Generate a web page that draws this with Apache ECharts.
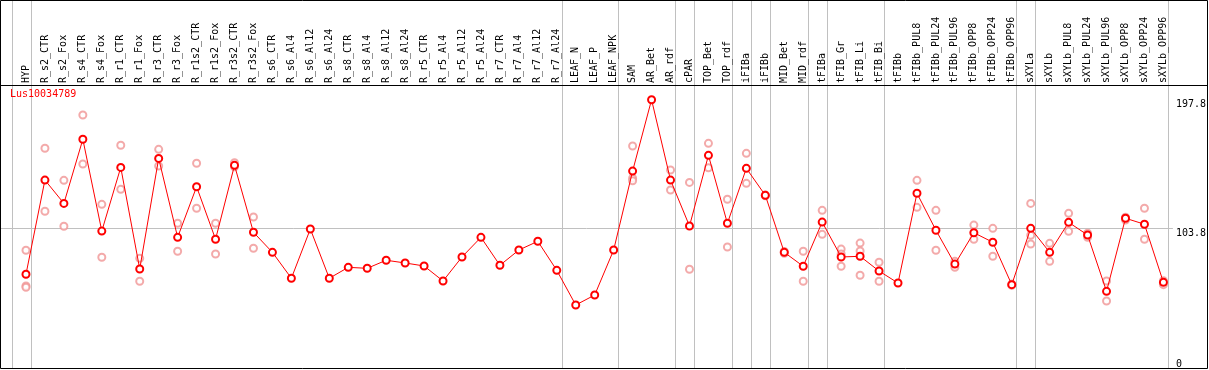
<!DOCTYPE html>
<html>
<head>
<meta charset="utf-8">
<script src="https://cdn.jsdelivr.net/npm/echarts@6/dist/echarts.min.js"></script>
<style>
html,body{margin:0;padding:0;background:#fff;}
#chart{width:1209px;height:370px;}
</style>
</head>
<body>
<div id="chart"></div>
<script>
const seriesName = 'Lus10034789';
const categories = ['HYP','R_s2_CTR','R_s2_Fox','R_s4_CTR','R_s4_Fox','R_r1_CTR','R_r1_Fox','R_r3_CTR','R_r3_Fox','R_r1s2_CTR','R_r1s2_Fox','R_r3s2_CTR','R_r3s2_Fox','R_s6_CTR','R_s6_Al4','R_s6_Al12','R_s6_Al24','R_s8_CTR','R_s8_Al4','R_s8_Al12','R_s8_Al24','R_r5_CTR','R_r5_Al4','R_r5_Al12','R_r5_Al24','R_r7_CTR','R_r7_Al4','R_r7_Al12','R_r7_Al24','LEAF_N','LEAF_P','LEAF_NPK','SAM','AR_Bet','AR_rdf','cPAR','TOP_Bet','TOP_rdf','iFIBa','iFIBb','MID_Bet','MID_rdf','tFIBa','tFIB_Gr','tFIB_Li','tFIB_Bi','tFIBb','tFIBb_PUL8','tFIBb_PUL24','tFIBb_PUL96','tFIBb_OPP8','tFIBb_OPP24','tFIBb_OPP96','sXYLa','sXYLb','sXYLb_PUL8','sXYLb_PUL24','sXYLb_PUL96','sXYLb_OPP8','sXYLb_OPP24','sXYLb_OPP96'];
const meanValues = [69.8,138.9,121.8,168.8,101.5,148.2,73.7,154.8,96.9,134.0,95.5,149.7,100.6,85.9,66.9,103.0,66.9,74.9,74.2,80.1,78.1,75.9,64.9,82.5,96.9,76.4,87.6,94.0,72.7,47.3,54.6,87.6,145.5,197.8,138.9,105.2,157.0,107.2,147.5,127.7,85.9,75.7,108.1,82.5,83.0,72.2,63.4,129.2,102.1,77.3,100.3,93.3,62.2,103.5,85.9,107.9,98.6,57.3,110.9,106.5,63.9];
const replicateValues = [
  [87.4,61.2,60.3],[162.2,116.0],[138.7,105.0],[186.6,150.7],[121.1,82.3],[164.4,132.1],[81.5,64.7],[161.4,149.2],[107.2,86.7],[151.2,118.2],
  [107.2,84.7],[151.6,148.7],[111.8,88.9],[],[],[],[],[],[],[],
  [],[],[],[],[],[],[],[],[],[],
  [],[],[163.9,140.2,138.4],[],[146.3,131.6],[137.2,73.5],[165.8,147.9],[124.8,89.8],[158.5,136.5],[127.4,128.0],
  [86.5,85.2],[86.7,64.7],[116.7,99.1],[88.3,84.7,75.7],[92.7,86.9,69.1],[78.6,64.7],[],[138.7,118.9],[116.7,87.4],[79.3,74.9],
  [105.9,95.5],[103.5,83.0],[62.6,61.8],[121.8,98.4,92.0],[92.5,79.3],[114.5,101.3],[99.9,96.9],[64.9,50.2],[109.6,111.6],[118.2,95.5],
  [62.2,65.1]
];
const separatorAfter = [-1,0,28,31,34,35,37,38,39,41,42,45,52,53,60];
const referenceValue = 103.8;
const upperTickLabels = [197.8, 103.8];
const lowerTickLabels = [0];

const replicatePoints = [];
replicateValues.forEach((arr, i) => arr.forEach(v => replicatePoints.push([i, v])));

const FONT = 'DejaVu Sans Mono';
const Y_MAX = 208.6;
const chart = echarts.init(document.getElementById('chart'), null, {renderer: 'canvas'});

const option = {
  animation: false,
  backgroundColor: '#fff',
  title: {
    text: seriesName, left: 10, top: 89, padding: 0,
    textStyle: {color: '#ff0000', fontSize: 10, fontFamily: FONT, fontWeight: 'normal'}
  },
  grid: {left: 16.5, right: 33.5, top: 85, bottom: 0.5, containLabel: false},
  xAxis: {
    type: 'category', data: categories, position: 'top', boundaryGap: true,
    axisLine: {show: false}, axisTick: {show: false}, splitLine: {show: false},
    axisLabel: {interval: 0, rotate: 90, margin: 2, color: '#000', fontSize: 10, fontFamily: FONT}
  },
  yAxis: [
    {type: 'value', min: 0, max: Y_MAX, position: 'right',
     axisLine: {show: false}, axisTick: {show: false}, splitLine: {show: false},
     axisLabel: {customValues: upperTickLabels, margin: 3, verticalAlign: 'top', color: '#000', fontSize: 10, fontFamily: FONT,
                 formatter: v => String(v)}},
    {type: 'value', min: 0, max: Y_MAX, position: 'right',
     axisLine: {show: false}, axisTick: {show: false}, splitLine: {show: false},
     axisLabel: {customValues: lowerTickLabels, margin: 3, verticalAlign: 'bottom', color: '#000', fontSize: 10, fontFamily: FONT,
                 formatter: v => String(v)}}
  ],
  graphic: [
    {type: 'rect', z: 100, silent: true, shape: {x: 0.5, y: 0.5, width: 1207, height: 368},
     style: {fill: null, stroke: '#000', lineWidth: 1}},
    {type: 'line', z: 100, silent: true, shape: {x1: 0, y1: 85.5, x2: 1208, y2: 85.5},
     style: {stroke: '#000', lineWidth: 1}}
  ],
  series: [
    {
      type: 'custom', name: 'separators', silent: true, z: 0,
      data: separatorAfter.map(s => [0, 0]),
      renderItem: function (params, api) {
        const idx = separatorAfter[params.dataIndex];
        const x0 = api.coord([0, 0])[0];
        const bw = api.size([1, 0])[0];
        const x = Math.round(x0 + (idx + 0.25) * bw) + 0.5;
        return {type: 'line', shape: {x1: x, y1: 0, x2: x, y2: 369}, style: {stroke: '#c0c0c0', lineWidth: 1}};
      }
    },
    {
      type: 'custom', name: 'reference', silent: true, z: 0,
      data: [[0, referenceValue]],
      renderItem: function (params, api) {
        const y = Math.round(api.coord([0, api.value(1)])[1]) + 0.5;
        const cs = params.coordSys;
        return {type: 'line', shape: {x1: 0, y1: y, x2: cs.x + cs.width, y2: y}, style: {stroke: '#c0c0c0', lineWidth: 1}};
      }
    },
    {
      type: 'scatter', name: 'replicates', data: replicatePoints, z: 2,
      symbol: 'emptyCircle', symbolSize: 7,
      itemStyle: {color: '#f09595', borderColor: '#f09595', borderWidth: 1.3}
    },
    {
      type: 'line', name: seriesName, data: meanValues, z: 3,
      symbol: 'emptyCircle', symbolSize: 7, showAllSymbol: true,
      lineStyle: {color: '#ff0000', width: 1},
      itemStyle: {color: '#ff0000', borderColor: '#ff0000', borderWidth: 1.6}
    }
  ]
};
chart.setOption(option);
</script>
</body>
</html>
